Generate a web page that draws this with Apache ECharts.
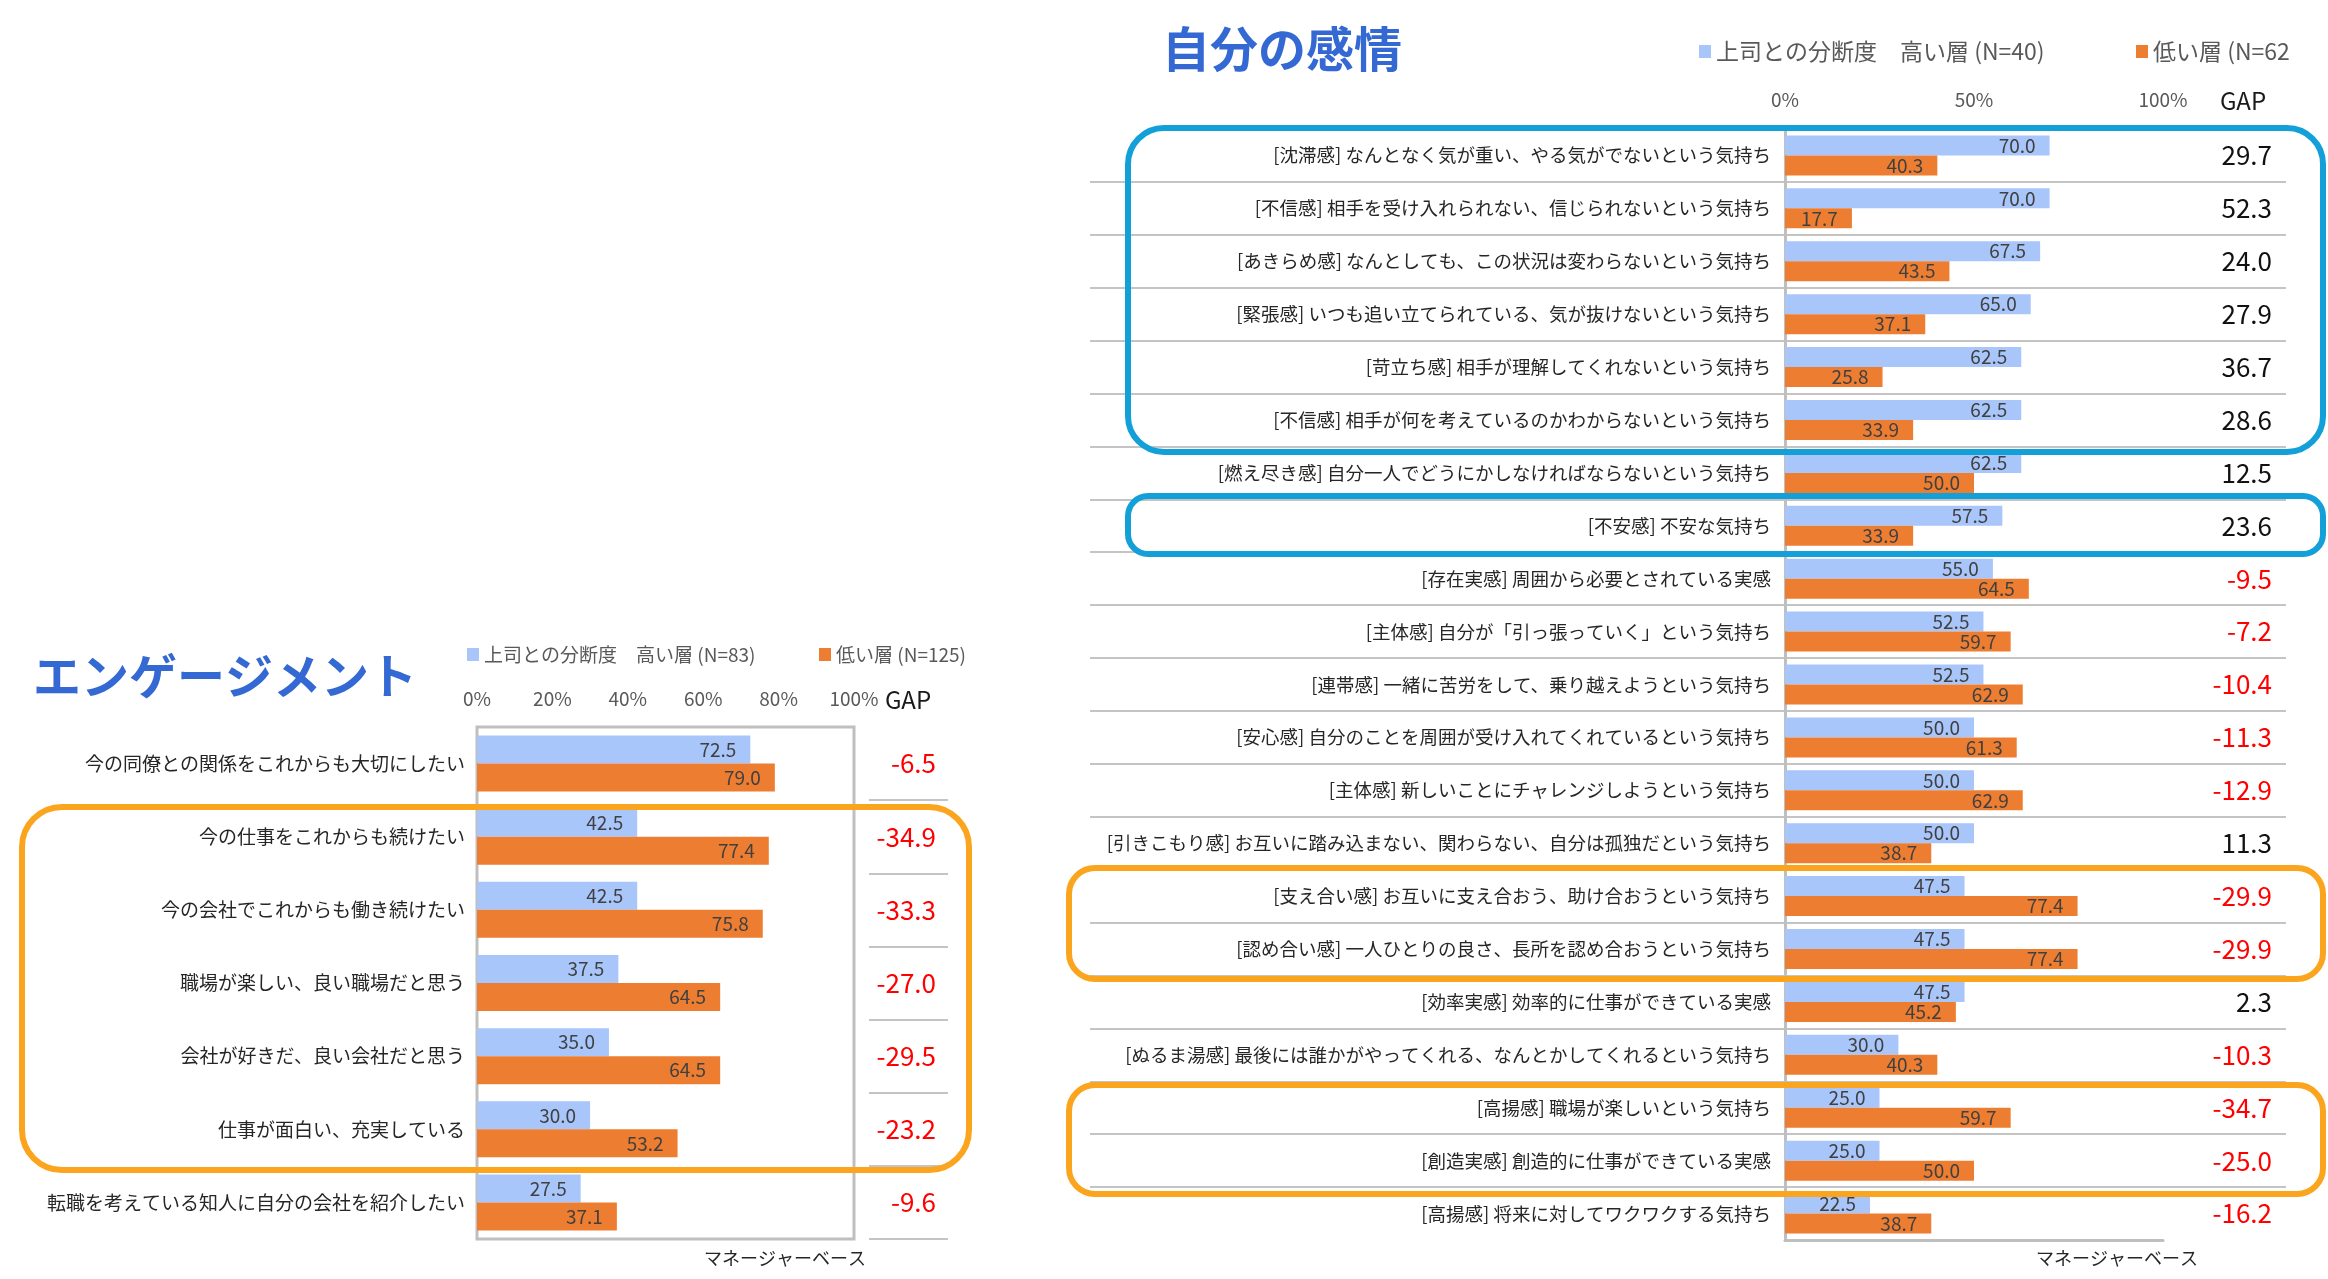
<!DOCTYPE html>
<html>
<head>
<meta charset="utf-8">
<script src="https://cdn.jsdelivr.net/npm/echarts@6/dist/echarts.min.js"></script>
<style>
  html, body { margin: 0; padding: 0; background: #fff; }
  #chart { width: 2328px; height: 1279px; }
</style>
</head>
<body>
<div id="chart"></div>
<script>
// エンゲージメント (left)
const engCats = [
    '今の同僚との関係をこれからも大切にしたい',
    '今の仕事をこれからも続けたい',
    '今の会社でこれからも働き続けたい',
    '職場が楽しい、良い職場だと思う',
    '会社が好きだ、良い会社だと思う',
    '仕事が面白い、充実している',
    '転職を考えている知人に自分の会社を紹介したい'
];
const engHigh = [72.5, 42.5, 42.5, 37.5, 35.0, 30.0, 27.5];
const engLow = [79.0, 77.4, 75.8, 64.5, 64.5, 53.2, 37.1];
const engGap = [-6.5, -34.9, -33.3, -27.0, -29.5, -23.2, -9.6];
const engTicks = [0, 20, 40, 60, 80, 100];

// 自分の感情 (right)
const emoCats = [
    '[沈滞感] なんとなく気が重い、やる気がでないという気持ち',
    '[不信感] 相手を受け入れられない、信じられないという気持ち',
    '[あきらめ感] なんとしても、この状況は変わらないという気持ち',
    '[緊張感] いつも追い立てられている、気が抜けないという気持ち',
    '[苛立ち感] 相手が理解してくれないという気持ち',
    '[不信感] 相手が何を考えているのかわからないという気持ち',
    '[燃え尽き感] 自分一人でどうにかしなければならないという気持ち',
    '[不安感] 不安な気持ち',
    '[存在実感] 周囲から必要とされている実感',
    '[主体感] 自分が「引っ張っていく」という気持ち',
    '[連帯感] 一緒に苦労をして、乗り越えようという気持ち',
    '[安心感] 自分のことを周囲が受け入れてくれているという気持ち',
    '[主体感] 新しいことにチャレンジしようという気持ち',
    '[引きこもり感] お互いに踏み込まない、関わらない、自分は孤独だという気持ち',
    '[支え合い感] お互いに支え合おう、助け合おうという気持ち',
    '[認め合い感] 一人ひとりの良さ、長所を認め合おうという気持ち',
    '[効率実感] 効率的に仕事ができている実感',
    '[ぬるま湯感] 最後には誰かがやってくれる、なんとかしてくれるという気持ち',
    '[高揚感] 職場が楽しいという気持ち',
    '[創造実感] 創造的に仕事ができている実感',
    '[高揚感] 将来に対してワクワクする気持ち'
];
const emoHigh = [70.0, 70.0, 67.5, 65.0, 62.5, 62.5, 62.5, 57.5, 55.0, 52.5, 52.5, 50.0, 50.0, 50.0, 47.5, 47.5, 47.5, 30.0, 25.0, 25.0, 22.5];
const emoLow = [40.3, 17.7, 43.5, 37.1, 25.8, 33.9, 50.0, 33.9, 64.5, 59.7, 62.9, 61.3, 62.9, 38.7, 77.4, 77.4, 45.2, 40.3, 59.7, 50.0, 38.7];
const emoGap = [29.7, 52.3, 24.0, 27.9, 36.7, 28.6, 12.5, 23.6, -9.5, -7.2, -10.4, -11.3, -12.9, 11.3, -29.9, -29.9, 2.3, -10.3, -34.7, -25.0, -16.2];
const emoTicks = [0, 50, 100];

const FONT = '"Noto Sans CJK JP", "Noto Sans", sans-serif';
const BLUE = '#A9C6FB';
const ORANGE = '#ED7D31';
const GRID_LINE = '#C4C4C4';
const TITLE_BLUE = '#3468D2';
const BOX_BLUE = '#139FD8';
const BOX_ORANGE = '#FBA51E';

const chart = echarts.init(document.getElementById('chart'));

function gapLabel(list) {
    return (value, index) => {
        const v = list[index];
        return v < 0 ? `{neg|${v.toFixed(1)}}` : `{pos|${v.toFixed(1)}}`;
    };
}
const gapRich = {
    pos: { color: '#111', fontSize: 26, fontFamily: FONT },
    neg: { color: '#FF0000', fontSize: 26, fontFamily: FONT }
};

function barSeries(name, data, color, xi, yi, width) {
    return {
        name: name,
        type: 'bar',
        xAxisIndex: xi,
        yAxisIndex: yi,
        data: data,
        barWidth: width,
        barGap: '0%',
        itemStyle: { color: color },
        label: {
            show: true,
            position: 'insideRight',
            distance: 14,
            color: '#404040',
            fontSize: 19,
            fontFamily: FONT,
            formatter: p => p.value.toFixed(1)
        },
        silent: true,
        animation: false
    };
}

function legendItem(name, left, top, size) {
    return {
        data: [name],
        left: left,
        top: top,
        icon: 'rect',
        itemWidth: 12,
        itemHeight: 13,
        itemGap: 4,
        selectedMode: false,
        textStyle: { color: '#595959', fontSize: size, fontFamily: FONT, padding: [0, 0, 0, 0] }
    };
}

function roundBox(x, y, w, h, r, color) {
    return {
        type: 'rect',
        shape: { x: x, y: y, width: w, height: h, r: r },
        style: { fill: 'none', stroke: color, lineWidth: 6 },
        z: 100,
        silent: true
    };
}

function text(str, x, y, size, color, align, weight) {
    return {
        type: 'text',
        x: x,
        y: y,
        style: {
            text: str,
            fill: color,
            font: `${weight || 'normal'} ${size}px ${FONT}`,
            align: align || 'left',
            verticalAlign: 'middle'
        },
        z: 100,
        silent: true
    };
}

const engHighName = '上司との分断度　高い層 (N=83)';
const engLowName = '低い層 (N=125)';
const emoHighName = '上司との分断度　高い層 (N=40)';
const emoLowName = '低い層 (N=62';

const option = {
    backgroundColor: '#fff',
    animation: false,
    textStyle: { fontFamily: FONT },
    legend: [
        legendItem(engHighName, 462, 640, 19),
        legendItem(engLowName, 814, 640, 19),
        legendItem(emoHighName, 1694, 35, 23),
        legendItem(emoLowName, 2131, 35, 23)
    ],
    grid: [
        { left: 477, top: 727, width: 377, height: 512, show: true, borderColor: '#BFBFBF', borderWidth: 3, backgroundColor: 'transparent' },
        { left: 869, top: 727, width: 79, height: 512 },
        { left: 1785, top: 129, width: 378, height: 1111 },
        { left: 1090, top: 129, width: 1196, height: 1111 }
    ],
    xAxis: [
        {
            gridIndex: 0, type: 'value', position: 'top', min: engTicks[0], max: engTicks[engTicks.length - 1], interval: 20,
            axisLine: { show: false }, axisTick: { show: false }, splitLine: { show: false },
            axisLabel: { formatter: '{value}%', color: '#595959', fontSize: 19, margin: 19, fontFamily: FONT }
        },
        { gridIndex: 1, type: 'value', show: false },
        {
            gridIndex: 2, type: 'value', position: 'top', min: emoTicks[0], max: emoTicks[emoTicks.length - 1], interval: 50,
            axisLine: { show: false }, axisTick: { show: false }, splitLine: { show: false },
            axisLabel: { formatter: '{value}%', color: '#595959', fontSize: 19, margin: 20, fontFamily: FONT }
        },
        {
            gridIndex: 2, type: 'value', position: 'bottom', min: 0, max: 100,
            axisLine: { show: true, lineStyle: { color: '#BFBFBF', width: 3 } },
            axisTick: { show: false }, axisLabel: { show: false }, splitLine: { show: false }
        },
        { gridIndex: 3, type: 'value', show: false }
    ],
    yAxis: [
        {
            gridIndex: 0, type: 'category', inverse: true, data: engCats,
            axisLine: { show: false }, axisTick: { show: false },
            axisLabel: { color: '#262626', fontSize: 19, margin: 12, fontFamily: FONT }
        },
        {
            gridIndex: 0, type: 'category', inverse: true, position: 'right', data: engCats,
            axisLine: { show: false }, axisTick: { show: false },
            axisLabel: { formatter: gapLabel(engGap), rich: gapRich, margin: 82, align: 'right' }
        },
        {
            gridIndex: 1, type: 'category', inverse: true, data: engCats,
            axisLine: { show: false }, axisTick: { show: false }, axisLabel: { show: false },
            splitLine: { show: true, showMinLine: false, lineStyle: { color: GRID_LINE, width: 2 } }
        },
        {
            gridIndex: 2, type: 'category', inverse: true, data: emoCats,
            axisLine: { show: true, lineStyle: { color: '#BFBFBF', width: 2 } }, axisTick: { show: false },
            axisLabel: { color: '#262626', fontSize: 18.5, margin: 14, fontFamily: FONT }
        },
        {
            gridIndex: 2, type: 'category', inverse: true, position: 'right', data: emoCats,
            axisLine: { show: true, lineStyle: { color: '#BFBFBF', width: 3 } }, axisTick: { show: false },
            axisLabel: { formatter: gapLabel(emoGap), rich: gapRich, margin: 109, align: 'right' }
        },
        {
            gridIndex: 3, type: 'category', inverse: true, data: emoCats,
            axisLine: { show: false }, axisTick: { show: false }, axisLabel: { show: false },
            splitLine: { show: true, showMinLine: false, showMaxLine: false, lineStyle: { color: GRID_LINE, width: 2 } }
        }
    ],
    series: [
        barSeries(engHighName, engHigh, BLUE, 0, 0, 28),
        barSeries(engLowName, engLow, ORANGE, 0, 0, 28),
        barSeries(emoHighName, emoHigh, BLUE, 2, 3, 20),
        barSeries(emoLowName, emoLow, ORANGE, 2, 3, 20)
    ],
    graphic: [
        text('エンゲージメント', 33, 676, 48, TITLE_BLUE, 'left', 'bold'),
        text('自分の感情', 1162, 49, 48, TITLE_BLUE, 'left', 'bold'),
        text('GAP', 908, 700, 24, '#1a1a1a', 'center'),
        text('GAP', 2243, 101, 24, '#1a1a1a', 'center'),
        text('マネージャーベース', 785, 1258, 18, '#262626', 'center'),
        text('マネージャーベース', 2117, 1258, 18, '#262626', 'center'),
        roundBox(22, 807, 947, 363, 40, BOX_ORANGE),
        roundBox(1128, 128, 1195, 324, 36, BOX_BLUE),
        roundBox(1128, 496, 1195, 58, 20, BOX_BLUE),
        roundBox(1069, 868, 1254, 111, 26, BOX_ORANGE),
        roundBox(1069, 1085, 1254, 109, 26, BOX_ORANGE)
    ]
};

chart.setOption(option);
</script>
</body>
</html>
